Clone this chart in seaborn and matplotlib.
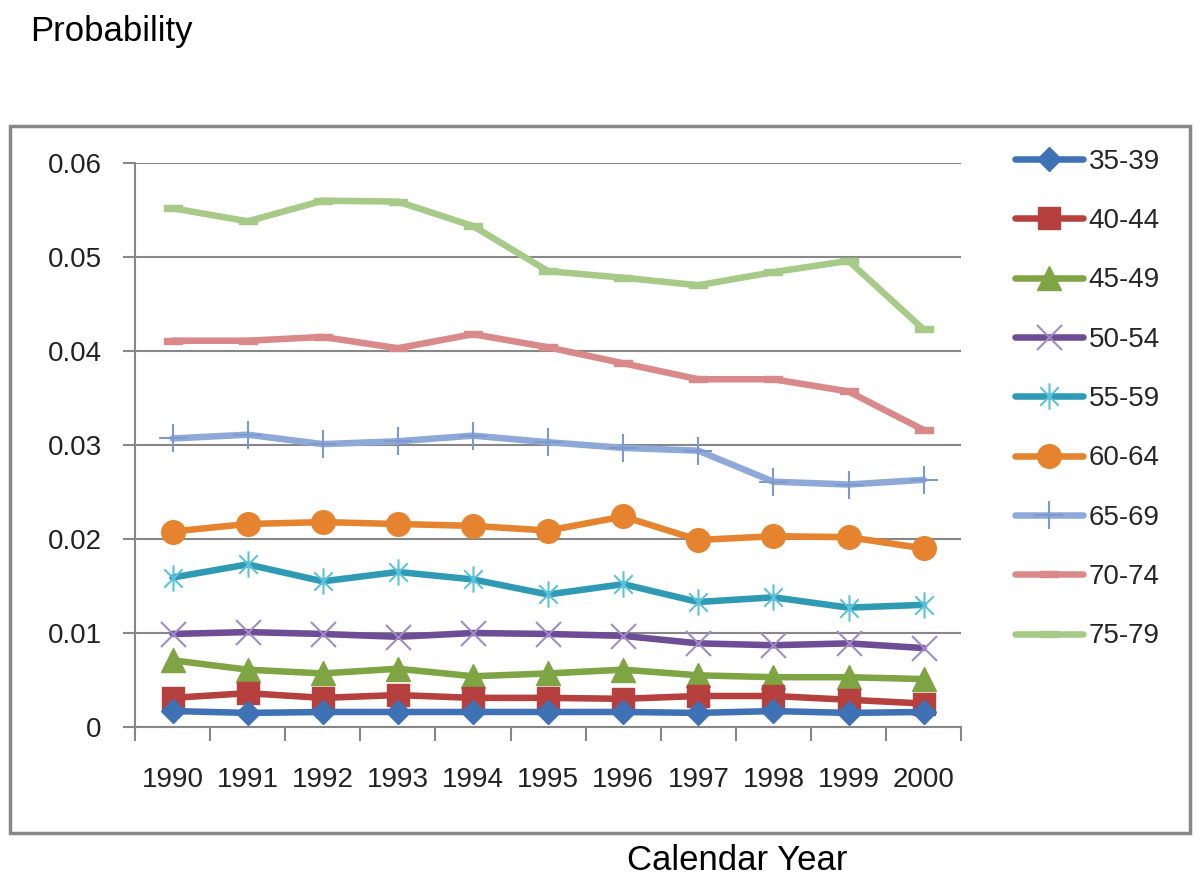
import numpy as np
import pandas as pd
import matplotlib
matplotlib.use('Agg')
import matplotlib.pyplot as plt
from matplotlib.path import Path
from matplotlib.patches import Rectangle
import seaborn as sns

# Data
years = [1990, 1991, 1992, 1993, 1994, 1995, 1996, 1997, 1998, 1999, 2000]
age_groups = ['35-39', '40-44', '45-49', '50-54', '55-59', '60-64', '65-69', '70-74', '75-79']

p_35_39 = [0.0017, 0.0015, 0.0016, 0.0016, 0.0016, 0.0016, 0.0016, 0.0015, 0.0017, 0.0015, 0.0016]
p_40_44 = [0.0031, 0.0036, 0.0031, 0.0034, 0.0031, 0.0031, 0.0030, 0.0033, 0.0033, 0.0029, 0.0025]
p_45_49 = [0.0071, 0.0061, 0.0057, 0.0062, 0.0054, 0.0057, 0.0061, 0.0055, 0.0053, 0.0053, 0.0051]
p_50_54 = [0.0099, 0.0101, 0.0099, 0.0096, 0.0100, 0.0099, 0.0097, 0.0089, 0.0087, 0.0089, 0.0084]
p_55_59 = [0.0159, 0.0173, 0.0155, 0.0165, 0.0157, 0.0141, 0.0152, 0.0133, 0.0138, 0.0127, 0.0130]
p_60_64 = [0.0208, 0.0216, 0.0218, 0.0216, 0.0214, 0.0209, 0.0224, 0.0199, 0.0203, 0.0202, 0.0190]
p_65_69 = [0.0307, 0.0311, 0.0301, 0.0304, 0.0310, 0.0303, 0.0297, 0.0294, 0.0261, 0.0258, 0.0263]
p_70_74 = [0.0411, 0.0411, 0.0415, 0.0403, 0.0418, 0.0404, 0.0387, 0.0370, 0.0370, 0.0357, 0.0316]
p_75_79 = [0.0552, 0.0538, 0.0560, 0.0559, 0.0533, 0.0485, 0.0478, 0.0470, 0.0484, 0.0496, 0.0423]

y_ticks = [0, 0.01, 0.02, 0.03, 0.04, 0.05, 0.06]
y_tick_labels = ['0', '0.01', '0.02', '0.03', '0.04', '0.05', '0.06']

series = [p_35_39, p_40_44, p_45_49, p_50_54, p_55_59, p_60_64, p_65_69, p_70_74, p_75_79]
df = pd.DataFrame({
    'year': years * len(age_groups),
    'prob': np.concatenate(series),
    'age': np.repeat(age_groups, len(years)),
})

# Custom markers (Excel-like star and dash)
star = Path([(0, -1), (0, 1), (-0.7, -0.7), (0.7, 0.7), (-0.7, 0.7), (0.7, -0.7)],
            [Path.MOVETO, Path.LINETO, Path.MOVETO, Path.LINETO, Path.MOVETO, Path.LINETO])
dash = Path([(-1, -0.35), (1, -0.35), (1, 0.35), (-1, 0.35), (-1, -0.35)],
            [Path.MOVETO, Path.LINETO, Path.LINETO, Path.LINETO, Path.CLOSEPOLY])

styles = {
    '35-39': dict(color='#3F72B5', marker='D', markersize=12, mec='#3F72B5', mew=1),
    '40-44': dict(color='#B5403D', marker='s', markersize=16, mec='#B5403D', mew=1),
    '45-49': dict(color='#7FA444', marker='^', markersize=17, mec='#7FA444', mew=1),
    '50-54': dict(color='#6E4C96', marker='x', markersize=18, mec='#A08CC4', mew=1.5),
    '55-59': dict(color='#2F9AB4', marker=star, markersize=19, mec='#5CC2DA', mew=1.5),
    '60-64': dict(color='#E6832F', marker='o', markersize=17, mec='#E6832F', mew=1),
    '65-69': dict(color='#8EA9D8', marker='+', markersize=20, mec='#7D9AD0', mew=1.5),
    '70-74': dict(color='#D9898A', marker=dash, markersize=13, mec='#D9898A', mew=1),
    '75-79': dict(color='#A8CA88', marker=dash, markersize=13, mec='#A8CA88', mew=1),
}

sns.set_style('white')
plt.rcParams['font.family'] = ['Liberation Sans', 'DejaVu Sans']

fig = plt.figure(figsize=(12, 8.96), dpi=100)
ax = fig.add_axes([0.1125, 0.1886, 0.6885, 0.6294])

for i, age in enumerate(reversed(age_groups)):
    sub = df[df['age'] == age]
    st = styles[age]
    sns.lineplot(data=sub, x='year', y='prob', ax=ax, color=st['color'], marker=st['marker'],
                 markersize=st['markersize'], markeredgecolor=st['mec'], markeredgewidth=st['mew'],
                 markerfacecolor=st['color'], linewidth=4.7, label=age, zorder=3 + i)

ax.set_xlim(1989.5, 2000.5)
ax.set_ylim(0, 0.06)
ax.set_yticks(y_ticks)
ax.set_yticklabels(y_tick_labels)
ax.set_xticks(years)
ax.set_xticklabels([str(y) for y in years])
ax.set_xticks(np.arange(1989.5, 2001, 1), minor=True)
ax.tick_params(axis='x', which='major', length=0, pad=29, labelsize=20, colors='#222222')
ax.tick_params(axis='x', which='minor', length=10, width=1.5, color='#878787', direction='out', bottom=True)
ax.tick_params(axis='y', length=9, width=1.5, color='#878787', pad=15, labelsize=20, colors='#222222', left=True)
ax.yaxis.grid(True, color='#878787', linewidth=1.5)
ax.xaxis.grid(False)
for s in ['top', 'right']:
    ax.spines[s].set_visible(False)
for s in ['left', 'bottom']:
    ax.spines[s].set_color('#878787')
    ax.spines[s].set_linewidth(1.5)
ax.set_xlabel('')
ax.set_ylabel('')

# Legend in original order
handles, labels = ax.get_legend_handles_labels()
order = [labels.index(a) for a in age_groups]
ax.legend([handles[k] for k in order], age_groups, loc='upper left',
          bbox_to_anchor=(1.035, 1.07), frameon=False, fontsize=20,
          handlelength=2.45, labelspacing=1.2, handletextpad=0.2)

# Outer frame
fig.patches.append(Rectangle((0.0083, 0.0703), 0.9833, 0.789, transform=fig.transFigure,
                             fill=False, edgecolor='#878787', linewidth=2.5))

fig.text(0.025, 1 - 32 / 896, 'Probability', fontsize=25, va='center', ha='left', color='black')
fig.text(0.614, 1 - 860 / 896, 'Calendar Year', fontsize=25, va='center', ha='center', color='black')

fig.savefig('out.png', dpi=100)
